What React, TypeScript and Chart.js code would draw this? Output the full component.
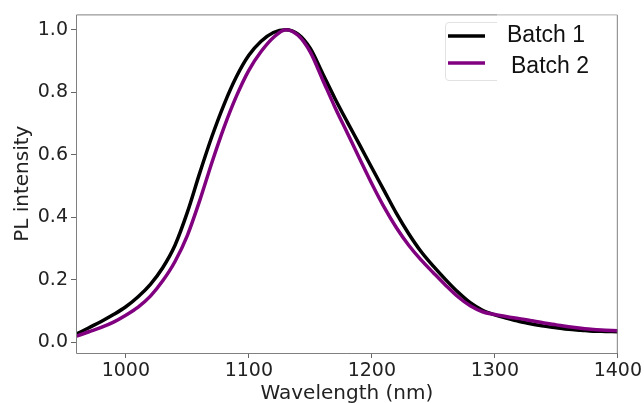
import React, { useEffect, useRef } from 'react';
import { Chart, registerables } from 'chart.js';
Chart.register(...registerables);

const wavelengths = [960, 970, 980, 990, 1000, 1010, 1020, 1030, 1040, 1050, 1060, 1070, 1080, 1090, 1100, 1110, 1120, 1130, 1140, 1150, 1160, 1170, 1180, 1190, 1200, 1210, 1220, 1230, 1240, 1250, 1260, 1270, 1280, 1290, 1300, 1310, 1320, 1330, 1340, 1350, 1360, 1370, 1380, 1390, 1400];
const batch1 = [0.026, 0.046, 0.066, 0.088, 0.113, 0.145, 0.185, 0.238, 0.310, 0.415, 0.540, 0.658, 0.762, 0.850, 0.918, 0.963, 0.991, 1.0, 0.986, 0.940, 0.860, 0.780, 0.705, 0.632, 0.558, 0.485, 0.412, 0.347, 0.290, 0.243, 0.200, 0.160, 0.126, 0.102, 0.087, 0.076, 0.066, 0.058, 0.051, 0.046, 0.041, 0.038, 0.035, 0.034, 0.033];
const batch2 = [0.019, 0.033, 0.047, 0.064, 0.086, 0.112, 0.147, 0.196, 0.258, 0.341, 0.452, 0.575, 0.689, 0.788, 0.870, 0.930, 0.975, 1.0, 0.982, 0.928, 0.840, 0.752, 0.670, 0.588, 0.507, 0.432, 0.366, 0.310, 0.263, 0.222, 0.182, 0.145, 0.116, 0.097, 0.088, 0.081, 0.075, 0.068, 0.061, 0.055, 0.049, 0.044, 0.040, 0.038, 0.036];
const seriesLabels = ['Batch 1', 'Batch 2'];
const seriesColors = ['#000000', '#800080'];
const xTicks = [1000, 1100, 1200, 1300, 1400];
const yTicks = [0.0, 0.2, 0.4, 0.6, 0.8, 1.0];
const xTitle = 'Wavelength (nm)';
const yTitle = 'PL intensity';

const frameAndLegend = {
  id: 'frameAndLegend',
  afterDatasetsDraw(chart: any) {
    const { ctx, chartArea } = chart;
    const { left, top, right, bottom } = chartArea;
    ctx.save();
    ctx.lineWidth = 1;
    ctx.strokeStyle = '#808080';
    ctx.beginPath();
    ctx.moveTo(left + 0.5, bottom + 0.5);
    ctx.lineTo(left + 0.5, top + 0.5);
    ctx.lineTo(497, top + 0.5);
    ctx.moveTo(right - 0.5, top + 0.5);
    ctx.lineTo(right - 0.5, bottom + 0.5);
    ctx.lineTo(left + 0.5, bottom + 0.5);
    ctx.stroke();
    ctx.strokeStyle = '#b0b0b0';
    ctx.beginPath();
    ctx.moveTo(497, top + 0.5);
    ctx.lineTo(right - 0.5, top + 0.5);
    ctx.stroke();

    // legend frame (partial)
    ctx.strokeStyle = '#e2e2e2';
    ctx.beginPath();
    ctx.moveTo(497, 22.5);
    ctx.lineTo(449, 22.5);
    ctx.quadraticCurveTo(445.5, 22.5, 445.5, 26);
    ctx.lineTo(445.5, 77);
    ctx.quadraticCurveTo(445.5, 80.5, 449, 80.5);
    ctx.lineTo(497, 80.5);
    ctx.stroke();

    const rows = [
      { y: 36, tx: 507, ty: 42 },
      { y: 63, tx: 511, ty: 73 },
    ];
    ctx.font = '23px "Liberation Sans", Arial, sans-serif';
    ctx.textAlign = 'left';
    ctx.textBaseline = 'alphabetic';
    rows.forEach((r, i) => {
      ctx.strokeStyle = seriesColors[i];
      ctx.lineWidth = 3.5;
      ctx.beginPath();
      ctx.moveTo(448, r.y);
      ctx.lineTo(485, r.y);
      ctx.stroke();
      ctx.fillStyle = '#111';
      ctx.fillText(seriesLabels[i], r.tx, r.ty);
    });
    ctx.restore();
  },
};

export default function App() {
  const ref = useRef<HTMLCanvasElement>(null);
  useEffect(() => {
    document.body.style.margin = '0';
    const canvas = ref.current!;
    const tickFont = { family: '"DejaVu Sans", sans-serif', size: 19 };
    const titleFont = { family: '"DejaVu Sans", sans-serif', size: 20 };
    const chart = new Chart(canvas, {
      type: 'line',
      data: {
        datasets: [batch1, batch2].map((arr, i) => ({
          label: seriesLabels[i],
          data: wavelengths.map((w, j) => ({ x: w, y: arr[j] })),
          borderColor: seriesColors[i],
          backgroundColor: seriesColors[i],
          borderWidth: 3.5,
          pointRadius: 0,
          fill: false,
          cubicInterpolationMode: 'monotone' as const,
          order: 2 - i,
        })),
      },
      options: {
        responsive: false,
        animation: false,
        devicePixelRatio: 1,
        layout: { padding: { top: 14, right: 25, left: 0, bottom: 0 } },
        plugins: { legend: { display: false }, tooltip: { enabled: false } },
        scales: {
          x: {
            type: 'linear',
            min: 959.5,
            max: 1400,
            afterBuildTicks: (s: any) => { s.ticks = xTicks.map((v) => ({ value: v })); },
            afterFit: (s: any) => { s.height = 50; },
            ticks: {
              font: tickFont,
              color: '#222',
              padding: 2,
              maxRotation: 0,
              autoSkip: false,
              callback: (v: any) => String(v),
            },
            grid: { display: true, drawOnChartArea: false, drawTicks: true, tickLength: 5, tickColor: '#666' },
            border: { display: false },
            title: { display: true, text: xTitle, font: titleFont, color: '#222', padding: { top: 0, bottom: -3 } },
          },
          y: {
            type: 'linear',
            min: -0.035,
            max: 1.049,
            afterBuildTicks: (s: any) => { s.ticks = yTicks.map((v) => ({ value: v })); },
            afterFit: (s: any) => { s.width = 76; },
            ticks: {
              font: tickFont,
              color: '#222',
              padding: 3,
              autoSkip: false,
              callback: (v: any) => Number(v).toFixed(1),
            },
            grid: { display: true, drawOnChartArea: false, drawTicks: true, tickLength: 5, tickColor: '#666' },
            border: { display: false },
            title: { display: true, text: yTitle, font: titleFont, color: '#222', padding: { top: 11, bottom: 0 } },
          },
        },
      },
      plugins: [frameAndLegend],
    });
    return () => chart.destroy();
  }, []);
  return (
    <div style={{ position: 'absolute', left: 0, top: 0, width: 644, height: 403, background: '#fff' }}>
      <canvas ref={ref} width={644} height={403} style={{ width: 644, height: 403, display: 'block' }} />
    </div>
  );
}
